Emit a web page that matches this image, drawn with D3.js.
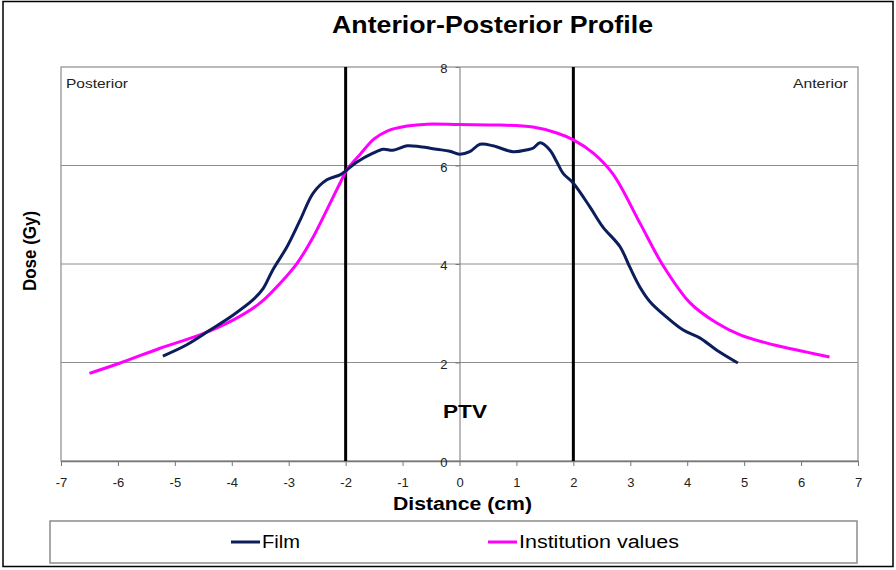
<!DOCTYPE html>
<html>
<head>
<meta charset="utf-8">
<script src="https://cdn.jsdelivr.net/npm/d3@7"></script>
<style>
  body { margin: 0; background: #fff; }
  svg { font-family: "Liberation Sans", Arial, sans-serif; }
</style>
</head>
<body>
<svg id="chart" width="896" height="570"></svg>
<script>
// Film measurement (cm, Gy)
var filmX = [-5.21, -4.79, -4.38, -3.98, -3.63, -3.45, -3.28, -3.03, -2.8, -2.57, -2.33, -2.1, -2.0, -1.8, -1.52, -1.34, -1.17, -0.92, -0.69, -0.4, -0.17, 0.0, 0.18, 0.36, 0.59, 0.94, 1.19, 1.29, 1.42, 1.59, 1.71, 1.82, 2.0, 2.29, 2.52, 2.82, 2.99, 3.17, 3.35, 3.64, 3.93, 4.22, 4.52, 4.89];
var filmY = [2.13, 2.36, 2.66, 2.96, 3.27, 3.5, 3.88, 4.35, 4.89, 5.44, 5.71, 5.81, 5.89, 6.07, 6.25, 6.33, 6.31, 6.4, 6.38, 6.33, 6.29, 6.23, 6.28, 6.43, 6.4, 6.28, 6.32, 6.35, 6.46, 6.31, 6.07, 5.84, 5.64, 5.16, 4.75, 4.35, 3.94, 3.53, 3.23, 2.92, 2.66, 2.5, 2.25, 1.99];

// Institution values
var instX = [-6.5, -5.96, -5.26, -4.56, -3.98, -3.5, -3.15, -2.85, -2.57, -2.33, -2.1, -1.98, -1.75, -1.5, -1.27, -0.92, -0.57, 0.0, 0.71, 1.29, 1.71, 2.0, 2.35, 2.7, 3.17, 3.57, 4.05, 4.52, 4.93, 5.51, 6.1, 6.5];
var instY = [1.78, 1.99, 2.29, 2.56, 2.86, 3.21, 3.61, 4.02, 4.55, 5.1, 5.64, 5.91, 6.22, 6.54, 6.7, 6.8, 6.84, 6.83, 6.82, 6.78, 6.66, 6.52, 6.25, 5.82, 4.83, 3.98, 3.21, 2.8, 2.56, 2.36, 2.21, 2.11];

var xTicks = [-7, -6, -5, -4, -3, -2, -1, 0, 1, 2, 3, 4, 5, 6, 7];
var yTicks = [0, 2, 4, 6, 8];
var ptvEdges = [-2, 2];

var svg = d3.select("#chart");

// outer frame
svg.append("rect")
    .attr("x", 3).attr("y", 1.5).attr("width", 890).attr("height", 565)
    .attr("fill", "#fff").attr("stroke", "#000").attr("stroke-width", 1.5);

var plotL = 61, plotR = 858, plotT = 67, plotB = 461;

var x = d3.scaleLinear().domain([-7, 7]).range([plotL, plotR]);
var y = d3.scaleLinear().domain([0, 8]).range([plotB, plotT]);

// gridlines
svg.append("g").selectAll("line")
    .data(yTicks.filter(function(d) { return d > 0 && d < 8; }))
  .enter().append("line")
    .attr("x1", plotL).attr("x2", plotR)
    .attr("y1", function(d) { return y(d); })
    .attr("y2", function(d) { return y(d); })
    .attr("stroke", "#8c8c8c").attr("stroke-width", 1);

// plot border
svg.append("rect")
    .attr("x", plotL).attr("y", plotT)
    .attr("width", plotR - plotL).attr("height", plotB - plotT)
    .attr("fill", "none").attr("stroke", "#8c8c8c").attr("stroke-width", 1.2);

// x axis at the bottom
var xAxis = d3.axisBottom(x).tickValues(xTicks).tickSize(5).tickSizeOuter(0)
    .tickFormat(function(d) { return String(d); });
var gx = svg.append("g")
    .attr("transform", "translate(0," + plotB + ")")
    .call(xAxis);
gx.select(".domain").attr("stroke", "#777").attr("stroke-width", 1.5);
gx.selectAll(".tick line").attr("stroke", "#777");
gx.selectAll(".tick text")
    .attr("font-size", 13).attr("fill", "#222")
    .attr("y", 26).attr("dy", 0)
    .style("font-family", "'Liberation Sans', Arial, sans-serif");

// y axis through x = 0
var yAxis = d3.axisLeft(y).tickValues(yTicks).tickSize(4).tickSizeOuter(0)
    .tickFormat(function(d) { return String(d); });
var gy = svg.append("g")
    .attr("transform", "translate(" + x(0) + ",0)")
    .call(yAxis);
gy.select(".domain").attr("stroke", "#777").attr("stroke-width", 1);
gy.selectAll(".tick line").attr("stroke", "#777");
gy.selectAll(".tick text")
    .attr("font-size", 13).attr("fill", "#222")
    .attr("x", -12).attr("dy", "0.45em")
    .style("font-family", "'Liberation Sans', Arial, sans-serif");

// PTV boundaries
svg.append("g").selectAll("line")
    .data(ptvEdges)
  .enter().append("line")
    .attr("x1", function(d) { return x(d); })
    .attr("x2", function(d) { return x(d); })
    .attr("y1", plotT).attr("y2", plotB)
    .attr("stroke", "#000").attr("stroke-width", 3);

var line = d3.line()
    .x(function(d) { return x(d[0]); })
    .y(function(d) { return y(d[1]); })
    .curve(d3.curveCatmullRom.alpha(0.5));

svg.append("path")
    .datum(d3.zip(instX, instY))
    .attr("d", line)
    .attr("fill", "none").attr("stroke", "#ff00ff").attr("stroke-width", 3);

svg.append("path")
    .datum(d3.zip(filmX, filmY))
    .attr("d", line)
    .attr("fill", "none").attr("stroke", "#0b1e5b").attr("stroke-width", 3);

// labels (the original is stretched a little sideways, hence textLength)
function label(tx, ty, size, bold, str, len) {
    var t = svg.append("text")
        .attr("x", tx).attr("y", ty)
        .attr("font-size", size)
        .attr("font-weight", bold ? "bold" : "normal")
        .text(str);
    if (len) t.attr("textLength", len).attr("lengthAdjust", "spacingAndGlyphs");
    return t;
}

label(332, 33, 24, true, "Anterior-Posterior Profile", 321);
label(66, 88, 13, false, "Posterior", 62).attr("fill", "#222");
label(793, 88, 13, false, "Anterior", 55).attr("fill", "#222");
label(443, 418, 18, true, "PTV", 44);
label(393, 510, 18, true, "Distance (cm)", 139);

svg.append("text")
    .attr("transform", "translate(36,251) scale(1.12,1) rotate(-90)")
    .attr("text-anchor", "middle")
    .attr("font-size", 17).attr("font-weight", "bold")
    .text("Dose (Gy)");

// legend
svg.append("rect")
    .attr("x", 50).attr("y", 521).attr("width", 807).attr("height", 42)
    .attr("fill", "#fff").attr("stroke", "#8c8c8c").attr("stroke-width", 1.5);

var legendItems = [
    { name: "Film", color: "#0b1e5b", x0: 231, len: 38 },
    { name: "Institution values", color: "#ff00ff", x0: 488, len: 160 }
];
var lg = svg.append("g").selectAll("g")
    .data(legendItems)
  .enter().append("g");
lg.append("line")
    .attr("x1", function(d) { return d.x0; })
    .attr("x2", function(d) { return d.x0 + 29; })
    .attr("y1", 542).attr("y2", 542)
    .attr("stroke", function(d) { return d.color; })
    .attr("stroke-width", 3);
lg.append("text")
    .attr("x", function(d) { return d.x0 + 31; })
    .attr("y", 548)
    .attr("font-size", 18)
    .attr("textLength", function(d) { return d.len; })
    .attr("lengthAdjust", "spacingAndGlyphs")
    .text(function(d) { return d.name; });
</script>
</body>
</html>
